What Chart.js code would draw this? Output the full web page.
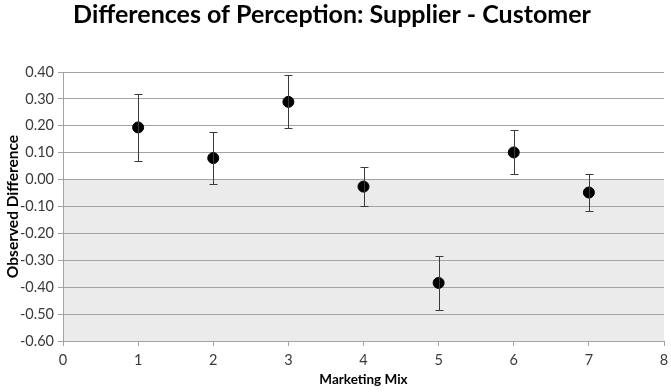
<!DOCTYPE html>
<html>
<head>
<meta charset="utf-8">
<script src="https://cdn.jsdelivr.net/npm/chart.js@4"></script>
<style>
  html, body { margin: 0; padding: 0; background: #fff; }
  #wrap { width: 671px; height: 392px; }
</style>
</head>
<body>
<div id="wrap"><canvas id="chart" width="671" height="392"></canvas></div>
<script>
// Marketing mix items and observed differences (supplier - customer)
const mixItems = [1, 2, 3, 4, 5, 6, 7]
const observed = [0.194, 0.080, 0.289, -0.026, -0.384, 0.101, -0.048]
const upperBound = [0.318, 0.177, 0.388, 0.046, -0.284, 0.185, 0.021]
const lowerBound = [0.068, -0.016, 0.190, -0.099, -0.483, 0.019, -0.117]

const gridGrey = '#a3a3a3'
const textGrey = '#3a3a3a'
const font = 'Lato, "Liberation Sans", sans-serif'

// light grey band under zero, like the original plot area
const belowZeroFill = {
    id: 'belowZeroFill',
    beforeDraw(chart) {
        const { ctx, chartArea, scales } = chart
        const y0 = scales.y.getPixelForValue(0)
        ctx.save()
        ctx.fillStyle = '#ebebeb'
        ctx.fillRect(chartArea.left, y0, chartArea.right - chartArea.left, chartArea.bottom - y0)
        ctx.restore()
    }
}

// vertical error bars with caps
const errorBars = {
    id: 'errorBars',
    afterDatasetsDraw(chart) {
        const { ctx, scales } = chart
        ctx.save()
        ctx.strokeStyle = '#3a3a3a'
        ctx.lineWidth = 1
        mixItems.forEach((m, i) => {
            const x = Math.round(scales.x.getPixelForValue(m)) + 0.5
            const yHi = Math.round(scales.y.getPixelForValue(upperBound[i])) + 0.5
            const yLo = Math.round(scales.y.getPixelForValue(lowerBound[i])) + 0.5
            ctx.beginPath()
            ctx.moveTo(x, yHi); ctx.lineTo(x, yLo)
            ctx.moveTo(x - 4, yHi); ctx.lineTo(x + 4, yHi)
            ctx.moveTo(x - 4, yLo); ctx.lineTo(x + 4, yLo)
            ctx.stroke()
        })
        ctx.restore()
    }
}

const data = {
    datasets: [{
        label: 'Observed Difference',
        data: mixItems.map((m, i) => ({ x: m, y: observed[i] })),
        backgroundColor: '#000',
        borderColor: '#000',
        pointRadius: 5.5,
        pointHoverRadius: 5.5
    }]
}

const options = {
    responsive: false,
    animation: false,
    layout: { padding: { left: 0, right: 7, top: 0, bottom: 0 } },
    plugins: {
        legend: { display: false },
        tooltip: { enabled: false },
        title: {
            display: true,
            text: 'Differences of Perception: Supplier - Customer',
            color: '#000',
            font: { family: font, size: 25, weight: 'bold' },
            padding: { top: 0, bottom: 42 }
        }
    },
    scales: {
        x: {
            type: 'linear',
            min: 0, max: 8,
            ticks: { stepSize: 1, color: textGrey, font: { family: font, size: 14.5 }, padding: 6 },
            grid: { drawOnChartArea: false, color: gridGrey, tickLength: 5 },
            border: { color: gridGrey },
            title: {
                display: true, text: 'Marketing Mix', color: '#000',
                font: { family: font, size: 13.5, weight: 'bold' }, padding: { top: 8 }
            },
            afterFit: s => { s.height = 51; s.paddingRight = 0; s.paddingLeft = 0 }
        },
        y: {
            min: -0.6, max: 0.4,
            ticks: {
                stepSize: 0.1, color: textGrey, font: { family: font, size: 14.5 }, padding: 4,
                callback: v => v.toFixed(2)
            },
            grid: { color: gridGrey, tickLength: 5 },
            border: { color: gridGrey },
            title: {
                display: true, text: 'Observed Difference', color: '#000',
                font: { family: font, size: 15.5, weight: 'bold' }, padding: { bottom: 0 }
            },
            afterFit: s => { s.width = 63 }
        }
    }
}

new Chart(document.getElementById('chart'), {
    type: 'scatter',
    data: data,
    options: options,
    plugins: [belowZeroFill, errorBars]
})
</script>
</body>
</html>
